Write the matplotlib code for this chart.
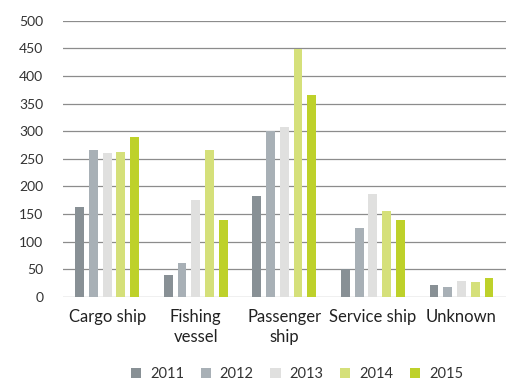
import numpy as np
import matplotlib.pyplot as plt

plt.rcParams["font.family"] = ["Lato", "DejaVu Sans"]

# Data
categories = ["Cargo ship", "Fishing\nvessel", "Passenger\nship", "Service ship", "Unknown"]
years = ["2011", "2012", "2013", "2014", "2015"]
v2011 = [162, 39, 183, 50, 22]
v2012 = [266, 62, 301, 125, 18]
v2013 = [260, 175, 308, 186, 28]
v2014 = [262, 266, 449, 155, 27]
v2015 = [290, 139, 366, 139, 34]
series = [v2011, v2012, v2013, v2014, v2015]
colors = ["#889095", "#a8b0b6", "#e0e0df", "#d5e07a", "#bed12a"]

fig = plt.figure(figsize=(5.28, 3.86), dpi=100)
ax = fig.add_axes([0.119, 0.231, 0.839, 0.715])

x = np.arange(len(categories))
step = 0.155
width = 0.10
for i, (vals, col, yr) in enumerate(zip(series, colors, years)):
    ax.bar(x + (i - 2) * step, vals, width=width, color=col, label=yr, zorder=3)

ax.set_xlim(-0.5, len(categories) - 0.5)
ax.set_ylim(0, 500)
ax.set_yticks(range(0, 501, 50))
ax.grid(axis="y", color="#8c8c8c", linewidth=0.9, zorder=0)
for s in ax.spines.values():
    s.set_visible(False)
ax.tick_params(axis="y", length=0, labelsize=10, colors="#333333", pad=14)
ax.tick_params(axis="x", length=0, labelsize=12, colors="#222222", pad=9)
ax.set_xticks(x)
ax.set_xticklabels(categories, linespacing=1.3)

fig.legend(
    loc="center",
    bbox_to_anchor=(0.5625, 0.03),
    ncol=5,
    frameon=False,
    fontsize=10.5,
    handlelength=0.7,
    handleheight=0.7,
    handletextpad=0.6,
    columnspacing=1.15,
    labelcolor="#333333",
)

fig.savefig("out.png", dpi=100)
